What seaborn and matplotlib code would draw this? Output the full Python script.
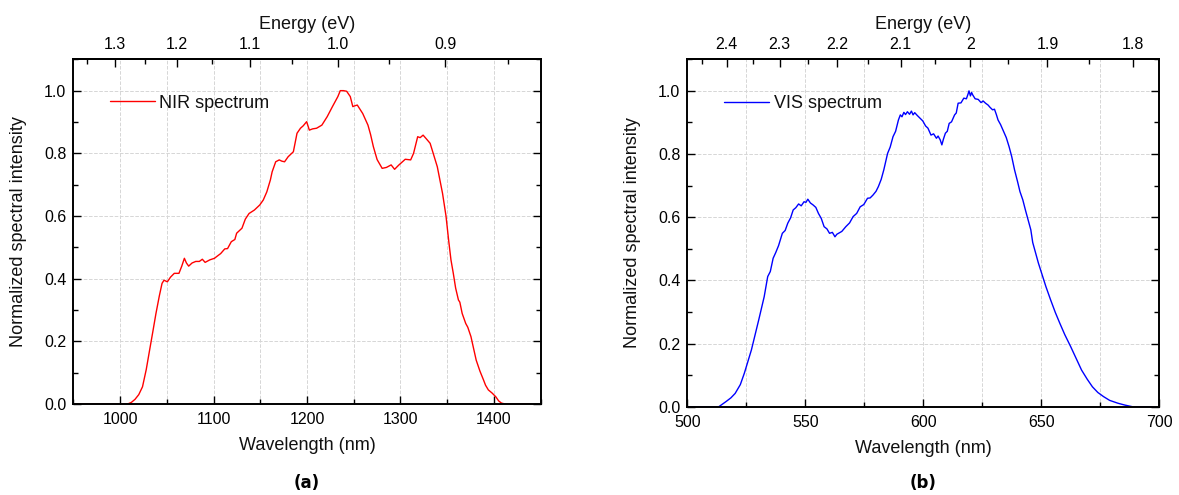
import numpy as np
import pandas as pd
import seaborn as sns
import matplotlib.pyplot as plt
from matplotlib.ticker import MultipleLocator, FixedLocator, FixedFormatter, FormatStrFormatter

# NIR spectrum
nir_wavelength = [950, 980, 1000, 1008, 1012, 1016, 1020, 1024, 1028, 1031.6, 1035, 1038.4,
                  1042, 1044.9, 1047, 1050.6, 1054, 1058, 1063, 1066, 1068.8, 1071, 1073.4,
                  1077, 1081, 1084.8, 1088, 1091, 1096, 1101, 1104, 1107.6, 1112, 1115, 1119,
                  1122.8, 1124.7, 1130.4, 1134, 1138, 1143.7, 1149.4, 1153.2, 1157, 1160.8,
                  1162.7, 1166.5, 1170.3, 1173, 1176, 1179.8, 1185.4, 1189.3, 1193, 1196,
                  1199.6, 1202.5, 1206, 1210.2, 1215.9, 1221.6, 1227.2, 1233, 1235.6, 1239,
                  1242.4, 1246.3, 1249, 1251.5, 1253.8, 1259.6, 1265.2, 1268, 1271, 1275,
                  1280.4, 1285, 1290, 1293.7, 1298, 1305.1, 1310.9, 1314, 1318.4, 1321,
                  1324.2, 1328, 1331.7, 1335, 1339.4, 1345, 1348.7, 1351.5, 1354, 1356.5,
                  1359, 1362, 1363.5, 1366, 1369.8, 1372, 1375.4, 1378, 1381, 1385, 1388.8,
                  1391, 1394, 1398, 1402, 1405, 1408, 1412, 1425, 1440]
nir_intensity = [0, 0, 0, 0.0, 0.005, 0.015, 0.03, 0.055, 0.11, 0.172, 0.23, 0.289,
                 0.345, 0.385, 0.395, 0.39, 0.405, 0.417, 0.417, 0.44, 0.465, 0.45, 0.44,
                 0.45, 0.455, 0.455, 0.462, 0.452, 0.46, 0.465, 0.472, 0.48, 0.495, 0.496, 0.518,
                 0.525, 0.545, 0.561, 0.59, 0.608, 0.619, 0.635, 0.651, 0.677, 0.715,
                 0.741, 0.773, 0.779, 0.775, 0.773, 0.789, 0.805, 0.864, 0.880, 0.888,
                 0.901, 0.874, 0.878, 0.880, 0.890, 0.917, 0.949, 0.981, 1.0, 1.0,
                 0.998, 0.981, 0.949, 0.952, 0.954, 0.927, 0.89, 0.86, 0.821, 0.78,
                 0.752, 0.755, 0.763, 0.749, 0.762, 0.781, 0.779, 0.80, 0.853, 0.85,
                 0.858, 0.845, 0.832, 0.80, 0.757, 0.672, 0.60, 0.523, 0.46, 0.417,
                 0.37, 0.332, 0.325, 0.289, 0.257, 0.245, 0.215, 0.18, 0.14, 0.105, 0.077,
                 0.06, 0.045, 0.035, 0.023, 0.01, 0.003, 0.0, 0, 0]

# VIS spectrum
vis_wavelength = [500, 510, 513.4, 516.4, 518.5, 520.3, 522.5, 524.2, 527.2, 530.3, 532.6,
                  534.1, 535.2, 536.4, 537.5, 538.7, 540.3, 541.5, 542.6, 543.8, 544.9, 546,
                  547.2, 548.3, 549.5, 550.3, 551.1, 552.2, 553.3, 554.5, 555.6, 556.8, 558,
                  559.2, 560.3, 561.5, 562.6, 563.4, 564.1, 565.5, 567.2, 568.8, 570.3,
                  571.8, 573.3, 574.8, 576.4, 577.5, 578.7, 580, 581, 582.2, 583.3, 584.9,
                  586, 587.2, 588.3, 589.5, 590.3, 591, 591.8, 592.5, 593.3, 594.2, 595,
                  595.7, 596.4, 597.5, 598.7, 599.8, 601, 602, 603.3, 604.4, 605.6, 606.3,
                  607.2, 607.9, 608.6, 609.4, 610.2, 611, 612, 613.3, 614, 614.8, 616, 617.2,
                  618.3, 619, 619.4, 620, 620.5, 621, 622, 623.3, 624.5, 625.4, 626.4, 627.5,
                  628.3, 629.4, 630.2, 631, 631.7, 632.8, 634.1, 635.2, 636.4, 637.5, 638.7,
                  640, 641, 642.2, 643.3, 644.5, 645.6, 646.4, 647.5, 648.8, 650.2, 652,
                  654, 656, 657.9, 660, 662.5, 665, 667.1, 669.5, 671.7, 674, 676.4, 679,
                  682.5, 685.5, 688.6, 697]
vis_intensity = [0, 0, 0.0, 0.016, 0.028, 0.042, 0.07, 0.106, 0.18, 0.275, 0.348,
                 0.412, 0.428, 0.47, 0.488, 0.51, 0.549, 0.558, 0.581, 0.598, 0.623, 0.63,
                 0.642, 0.636, 0.649, 0.647, 0.657, 0.645, 0.639, 0.631, 0.612, 0.596, 0.57,
                 0.563, 0.549, 0.552, 0.538, 0.546, 0.549, 0.555, 0.57, 0.582, 0.602,
                 0.612, 0.633, 0.64, 0.66, 0.661, 0.67, 0.682, 0.697, 0.72, 0.75, 0.802,
                 0.822, 0.855, 0.872, 0.908, 0.924, 0.918, 0.932, 0.925, 0.934, 0.926, 0.936,
                 0.924, 0.931, 0.922, 0.913, 0.905, 0.889, 0.882, 0.860, 0.864, 0.850, 0.857,
                 0.845, 0.829, 0.848, 0.866, 0.872, 0.897, 0.902, 0.924, 0.93, 0.961, 0.962, 0.977,
                 0.975, 0.99, 1.0, 0.984, 0.995, 0.987, 0.975, 0.973, 0.963, 0.968, 0.961, 0.955,
                 0.948, 0.940, 0.942, 0.925, 0.908, 0.893, 0.871, 0.852, 0.823, 0.792, 0.75,
                 0.712, 0.681, 0.655, 0.623, 0.59, 0.56, 0.52, 0.49, 0.455, 0.422, 0.38,
                 0.338, 0.298, 0.264, 0.228, 0.19, 0.15, 0.116, 0.087, 0.063, 0.045, 0.032, 0.02,
                 0.011, 0.005, 0.0, 0.0]

nir_energy_ticks = [1.3, 1.2, 1.1, 1.0, 0.9]
nir_energy_minor = [1.35, 1.25, 1.15, 1.05, 0.95, 0.85]
nir_energy_labels = ["1.3", "1.2", "1.1", "1.0", "0.9"]
vis_energy_ticks = [2.4, 2.3, 2.2, 2.1, 2.0, 1.9, 1.8]
vis_energy_minor = [2.45, 2.35, 2.25, 2.15, 2.05, 1.95, 1.85]
vis_energy_labels = ["2.4", "2.3", "2.2", "2.1", "2", "1.9", "1.8"]


# top axis of (a) is not a plain 1240/E scale in the original figure
def nir_to_ev(x):
    x = np.asarray(x, dtype=float)
    with np.errstate(divide="ignore", invalid="ignore"):
        return 1034.0 / (x - 199.0)


def nir_from_ev(e):
    e = np.asarray(e, dtype=float)
    with np.errstate(divide="ignore", invalid="ignore"):
        return 199.0 + 1034.0 / e


def vis_to_ev(x):
    x = np.asarray(x, dtype=float)
    with np.errstate(divide="ignore", invalid="ignore"):
        return 1240.0 / x


def style_panel(ax, xlim, major, minor, tag, tag_y, label_x, xlabel_y):
    ax.set_xlim(*xlim)
    ax.set_ylim(0, 1.1)
    ax.xaxis.set_major_locator(MultipleLocator(major))
    ax.xaxis.set_minor_locator(MultipleLocator(minor))
    ax.yaxis.set_major_locator(MultipleLocator(0.2))
    ax.yaxis.set_minor_locator(MultipleLocator(0.1))
    ax.yaxis.set_major_formatter(FormatStrFormatter("%.1f"))
    ax.tick_params(which="both", direction="in", top=False, right=True,
                   labelsize=11.5, width=1.0, color="black", labelcolor="black")
    ax.tick_params(which="major", length=6)
    ax.tick_params(which="minor", length=3.5)
    ax.tick_params(axis="x", pad=6)
    ax.tick_params(axis="y", pad=5)
    ax.grid(axis="x", which="both", ls="--", lw=0.7, color="#d6d6d6")
    ax.grid(axis="y", which="major", ls="--", lw=0.7, color="#d6d6d6")
    for s in ax.spines.values():
        s.set_linewidth(1.4)
        s.set_color("black")
    ax.set_xlabel("Wavelength (nm)", fontsize=13, color="#111111")
    ax.xaxis.set_label_coords(0.5, xlabel_y)
    ax.set_ylabel("Normalized spectral intensity", fontsize=13, color="#111111")
    ax.yaxis.set_label_coords(label_x, 0.5)
    leg = ax.legend(loc="center left", bbox_to_anchor=(0.078, 0.873), frameon=False,
                    fontsize=13, handlelength=2.5, handletextpad=0.25,
                    borderpad=0, borderaxespad=0)
    for t in leg.get_texts():
        t.set_color("#111111")
    ax.text(0.5, tag_y, tag, transform=ax.transAxes, ha="center", va="center",
            fontsize=12, fontweight="bold", family="DejaVu Sans", color="black")


def style_top(secax, ticks, minor_ticks, labels):
    secax.xaxis.set_major_locator(FixedLocator(ticks))
    secax.xaxis.set_major_formatter(FixedFormatter(labels))
    secax.xaxis.set_minor_locator(FixedLocator(minor_ticks))
    secax.tick_params(which="both", direction="in", labelsize=11.5, width=1.0, pad=5,
                      color="black", labelcolor="black")
    secax.tick_params(which="major", length=6)
    secax.tick_params(which="minor", length=3.5)
    secax.spines["top"].set_linewidth(1.4)
    secax.spines["top"].set_color("black")
    secax.set_xlabel("Energy (eV)", fontsize=13, labelpad=6, color="#111111")


sns.set_theme(style="ticks")
plt.rcParams["font.family"] = ["Liberation Sans", "DejaVu Sans"]

nir = pd.DataFrame({"wavelength": nir_wavelength, "intensity": nir_intensity})
vis = pd.DataFrame({"wavelength": vis_wavelength, "intensity": vis_intensity})

fig = plt.figure(figsize=(11.79, 4.95), dpi=100)
ax1 = fig.add_axes([0.0622, 0.1838, 0.3964, 0.6964])
ax2 = fig.add_axes([0.5829, 0.1784, 0.4003, 0.7018])

sns.lineplot(data=nir, x="wavelength", y="intensity", color="#ff0000", lw=1.0,
             label="NIR spectrum", ax=ax1, sort=False)
sns.lineplot(data=vis, x="wavelength", y="intensity", color="#0000ff", lw=1.0,
             label="VIS spectrum", ax=ax2, sort=False)

style_panel(ax1, (950, 1450), 100, 50, "(a)", -0.228, -0.099, -0.097)
style_panel(ax2, (500, 700), 50, 25, "(b)", -0.219, -0.098, -0.096)

top1 = ax1.secondary_xaxis("top", functions=(nir_to_ev, nir_from_ev))
style_top(top1, nir_energy_ticks, nir_energy_minor, nir_energy_labels)
top2 = ax2.secondary_xaxis("top", functions=(vis_to_ev, vis_to_ev))
style_top(top2, vis_energy_ticks, vis_energy_minor, vis_energy_labels)

fig.savefig("out.png", dpi=100)
